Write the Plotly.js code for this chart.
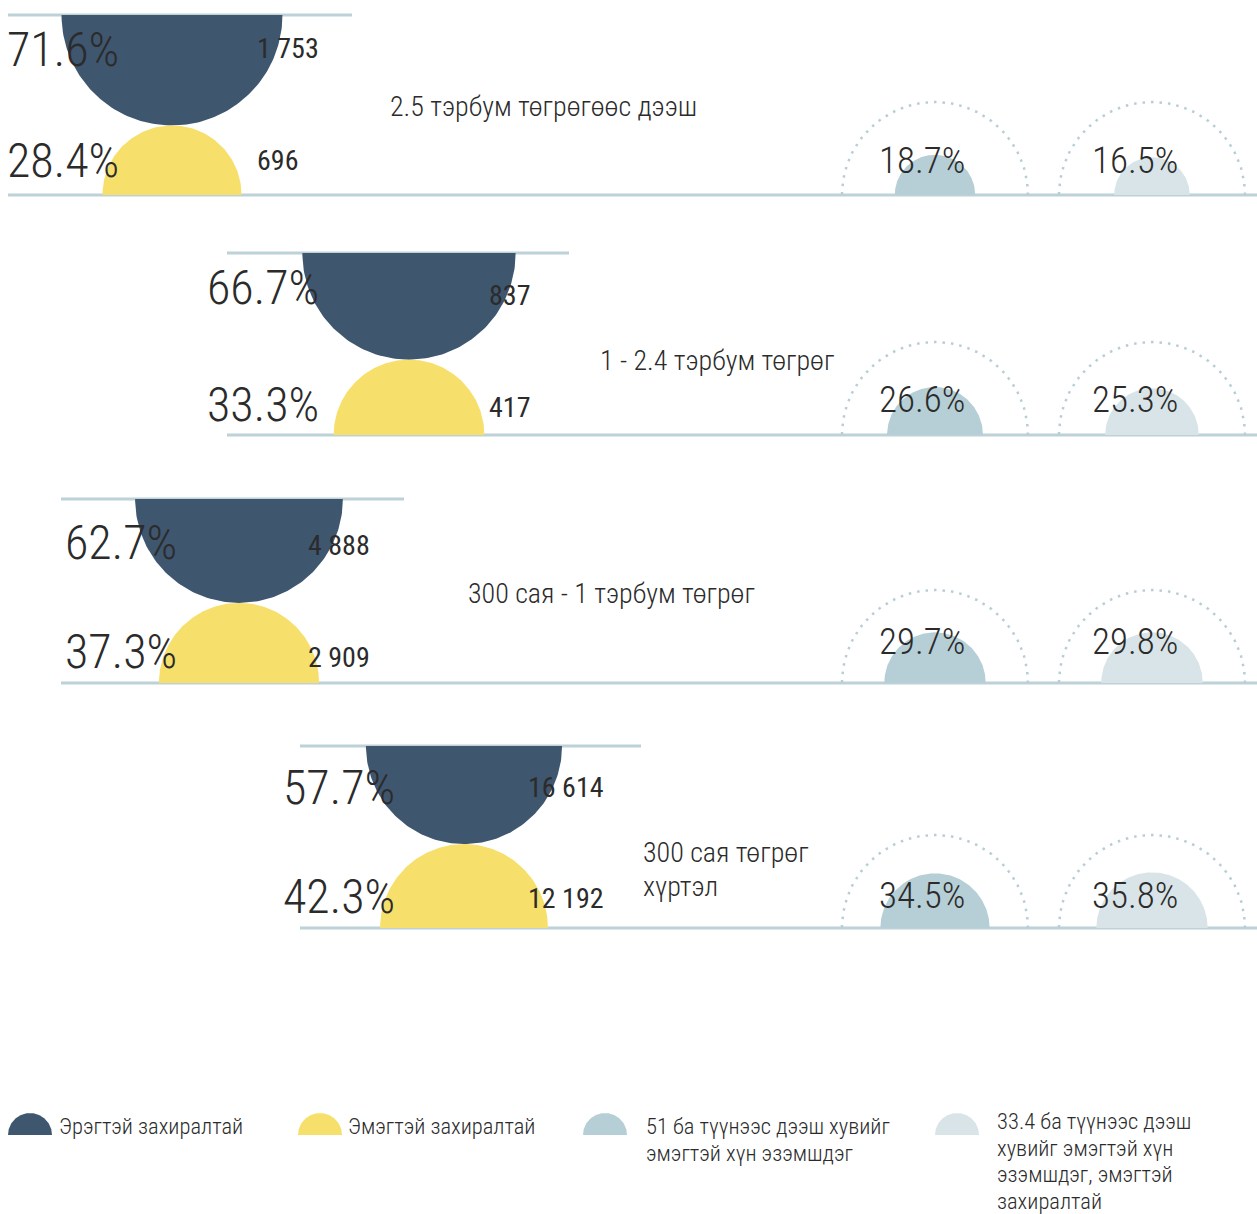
<!DOCTYPE html>
<html>
<head>
<meta charset="utf-8">
<script src="https://cdn.plot.ly/plotly-3.0.1.min.js"></script>
<style>
  html, body { margin: 0; padding: 0; background: #ffffff; }
  #chart { width: 1257px; height: 1214px; }
</style>
</head>
<body>
<div id="chart"></div>
<script>
// ---------------- DATA ----------------
var categories = ["2.5 тэрбум төгрөгөөс дээш", "1 - 2.4 тэрбум төгрөг", "300 сая - 1 тэрбум төгрөг", "300 сая төгрөг<br>хүртэл"];
var malePct = [71.6, 66.7, 62.7, 57.7];
var femalePct = [28.4, 33.3, 37.3, 42.3];
var maleCount = [1753, 837, 4888, 16614];
var femaleCount = [696, 417, 2909, 12192];
var ownedMajority = [18.7, 26.6, 29.7, 34.5];
var ownedAndDirected = [16.5, 25.3, 29.8, 35.8];
var legendLabels = [
  "Эрэгтэй захиралтай",
  "Эмэгтэй захиралтай",
  "51 ба түүнээс дээш хувийг<br>эмэгтэй хүн эзэмшдэг",
  "33.4 ба түүнээс дээш<br>хувийг эмэгтэй хүн<br>эзэмшдэг, эмэгтэй<br>захиралтай"
];

// ---------------- LAYOUT POSITIONS (pixel space) ----------------
var panelLeft = [8, 227, 61, 300];
var panelCx = [172, 409, 239, 464];
var panelTop = [15, 253, 499, 746];
var panelBottom = [195, 435, 683, 928];
var topLineRight = [352, 569, 404, 641];
var pctLabelX = [8, 208, 66, 284];
var countLabelX = [258, 490, 309, 529];
var malePctY = [49, 287, 542, 787];
var femalePctY = [160, 404, 651, 896];
var maleCountY = [48, 295, 545, 787];
var femaleCountY = [160, 407, 657, 898];
var catX = [391, 601, 469, 644];
var catY = [106, 360, 593, 852];
var catLineGap = 34;
var ringCx = [935, 1152];
var ringR = 93;
var ringLabelX = [880, 1093];
var ringLabelY = [160, 399, 641, 895];
var legendCx = [30, 320, 605, 957];
var legendBase = 1135;
var legendR = 22;
var legendTextX = [60, 349, 647, 998];
var legendTextY = [1126, 1126, 1126, 1121];
var legendLineGap = 26.5;
var TEXT_PAD = 3; // annotation box inner offset

// ---------------- STYLES ----------------
var cNavy = '#3f566f';
var cYellow = '#f7df6b';
var cBlue = '#b6ced6';
var cPale = '#d8e4e8';
var cLine = '#bdd1d8';
var cText = '#2b2b2b';
var FONT = '"Roboto Condensed", "Liberation Sans Narrow", "DejaVu Sans Condensed", Roboto, sans-serif';

function fmtCount(n) { return String(n).replace(/\B(?=(\d{3})+(?!\d))/g, ' '); }
function fmtPct(p) { return p.toFixed(1) + '%'; }

// half-disc; dir = +1 hangs downward from base (y reversed), -1 rises upward
function halfDisc(cx, baseY, r, dir, color, filled, dash) {
  var xs = [], ys = [], N = 120;
  for (var i = 0; i <= N; i++) {
    var t = Math.PI * i / N;
    xs.push(cx + r * Math.cos(t));
    ys.push(baseY + dir * r * Math.sin(t));
  }
  if (filled) {
    return { type: 'scatter', mode: 'lines', x: xs, y: ys, fill: 'toself', fillcolor: color,
             line: { width: 0, color: color }, hoverinfo: 'skip', showlegend: false };
  }
  return { type: 'scatter', mode: 'lines', x: xs, y: ys,
           line: { width: 2.5, color: color, dash: dash }, hoverinfo: 'skip', showlegend: false };
}

var traces = [];
var shapes = [];
var annotations = [];

function ann(x, y, text, size, weight, gap) {
  var lines = String(text).split('<br>');
  for (var l = 0; l < lines.length; l++) {
    annotations.push({ x: x - TEXT_PAD, y: y + l * (gap || 0), xref: 'x', yref: 'y', text: lines[l], showarrow: false,
      xanchor: 'left', yanchor: 'middle', align: 'left',
      font: { family: FONT, size: size, color: cText, weight: weight } });
  }
}

for (var i = 0; i < categories.length; i++) {
  var H = panelBottom[i] - panelTop[i];
  var sm = Math.sqrt(malePct[i]), sf = Math.sqrt(femalePct[i]);
  var rM = H * sm / (sm + sf);
  var rF = H * sf / (sm + sf);
  shapes.push({ type: 'line', xref: 'x', yref: 'y', x0: panelLeft[i], x1: topLineRight[i], y0: panelTop[i], y1: panelTop[i],
                line: { color: cLine, width: 3 }, layer: 'below' });
  shapes.push({ type: 'line', xref: 'x', yref: 'y', x0: panelLeft[i], x1: 1257, y0: panelBottom[i], y1: panelBottom[i],
                line: { color: cLine, width: 3 }, layer: 'below' });
  traces.push(halfDisc(panelCx[i], panelTop[i], rM, 1, cNavy, true));
  traces.push(halfDisc(panelCx[i], panelBottom[i], rF, -1, cYellow, true));
  var vals = [ownedMajority[i], ownedAndDirected[i]];
  var cols = [cBlue, cPale];
  for (var k = 0; k < 2; k++) {
    traces.push(halfDisc(ringCx[k], panelBottom[i], ringR, -1, cBlue, false, '2.5px,6px'));
    traces.push(halfDisc(ringCx[k], panelBottom[i], ringR * Math.sqrt(vals[k] / 100), -1, cols[k], true));
    ann(ringLabelX[k], ringLabelY[i], fmtPct(vals[k]), 37, 300);
  }
  ann(pctLabelX[i], malePctY[i], fmtPct(malePct[i]), 48, 300);
  ann(pctLabelX[i], femalePctY[i], fmtPct(femalePct[i]), 48, 300);
  ann(countLabelX[i], maleCountY[i], fmtCount(maleCount[i]), 28, 400);
  ann(countLabelX[i], femaleCountY[i], fmtCount(femaleCount[i]), 28, 400);
  ann(catX[i], catY[i], categories[i], 28, 300, catLineGap);
}

var legendColors = [cNavy, cYellow, cBlue, cPale];
for (var j = 0; j < legendLabels.length; j++) {
  traces.push(halfDisc(legendCx[j], legendBase, legendR, -1, legendColors[j], true));
  ann(legendTextX[j], legendTextY[j], legendLabels[j], 22.5, 300, legendLineGap);
}

var layout = {
  width: 1257, height: 1214,
  margin: { l: 0, r: 0, t: 0, b: 0 },
  paper_bgcolor: '#ffffff', plot_bgcolor: '#ffffff',
  showlegend: false,
  xaxis: { range: [0, 1257], visible: false, fixedrange: true },
  yaxis: { range: [1214, 0], visible: false, fixedrange: true },
  shapes: shapes,
  annotations: annotations
};

Plotly.newPlot('chart', traces, layout, { staticPlot: true, displayModeBar: false });
</script>
</body>
</html>
